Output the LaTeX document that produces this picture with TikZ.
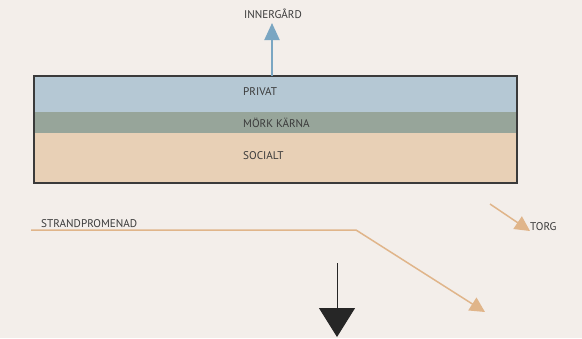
\documentclass[tikz,border=0pt]{standalone}
\usepackage{fontspec}
\setmainfont{PT Sans}
\usetikzlibrary{arrows.meta,positioning}

\definecolor{bgc}{HTML}{F3EEEA}
\definecolor{privc}{HTML}{B5C8D4}
\definecolor{morkc}{HTML}{97A59A}
\definecolor{socc}{HTML}{E8D0B6}
\definecolor{skyc}{HTML}{7AA6C2}
\definecolor{sandc}{HTML}{E0B58A}
\definecolor{inkc}{HTML}{3A3A3A}

\begin{document}
\begin{tikzpicture}[
  x=1bp, y=-1bp,
  font=\fontsize{11.2}{12}\selectfont,
  band/.style={draw=none, minimum width=483bp, inner sep=0pt, outer sep=0pt},
  lbl/.style={text=inkc, inner sep=0pt, anchor=west},
  walk/.style={sandc, line width=1.5bp, -{Triangle[length=15bp,width=15bp]}}
]
\fill[bgc] (0,0) rectangle (582,338);
\useasboundingbox (0,0) rectangle (582,338);

% ---------- zones ----------
\node[band, fill=privc, minimum height=36bp, anchor=north west] (privat) at (34,76) {};
\node[band, fill=morkc, minimum height=21bp, anchor=north west] (mork) at (privat.south west) {};
\node[band, fill=socc, minimum height=50bp, anchor=north west] (social) at (mork.south west) {};
\draw[inkc, line width=1.2bp] (privat.north west) rectangle (social.south east);

\node[lbl] (tprivat) at (243,92) {PRIVAT};
\node[lbl] (tmork) at (243,123) {MÖRK KÄRNA};
\node[lbl] (tsocial) at (243,156) {SOCIALT};

% ---------- directions ----------
\node[text=inkc, inner sep=0pt] (inner) at (273,14) {INNERGÅRD};
\coordinate (innertip) at (272,23);
\draw[skyc, line width=2bp, -{Triangle[length=17bp,width=15bp]}]
  (privat.north -| innertip) -- (innertip);

\node[lbl, anchor=south west] (strand) at (41,228) {STRANDPROMENAD};
\coordinate (sp0) at (31,230);
\coordinate (sp1) at (356,230);
\coordinate (sp2) at (485,312);
\draw[walk] (sp0) -- (sp1) -- (sp2);

\node[lbl, anchor=south west] (torg) at (530,231) {TORG};
\coordinate (tg0) at (490,204);
\draw[walk] (tg0) -- (torg.south west);

\coordinate (bl0) at (337,263);
\coordinate (bl1) at (337,337);
\draw[black!85, line width=1bp, -{Triangle[length=29bp,width=36bp]}] (bl0) -- (bl1);

\end{tikzpicture}
\end{document}
